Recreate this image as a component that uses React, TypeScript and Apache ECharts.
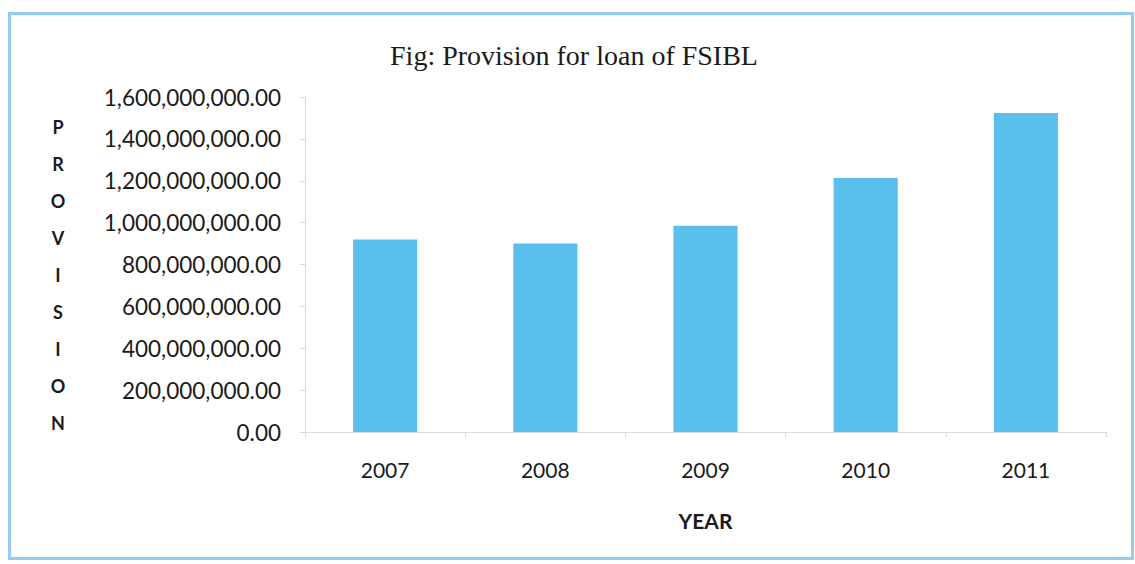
import React, { useEffect, useRef } from "react";
import * as echarts from "echarts";

const titleText = "Fig: Provision for loan of FSIBL";
const years = ["2007", "2008", "2009", "2010", "2011"];
const provisions = [920000000, 900000000, 985000000, 1213000000, 1524000000];
const yMin = 0;
const yMax = 1600000000;
const yStep = 200000000;
const yAxisTitle = "PROVISION";
const xAxisTitle = "YEAR";

function fmt(v: number): string {
  return v.toLocaleString("en-US", { minimumFractionDigits: 2, maximumFractionDigits: 2 });
}

export default function App() {
  const ref = useRef<HTMLDivElement>(null);
  useEffect(() => {
    if (!ref.current) return;
    const chart = echarts.init(ref.current, undefined, { renderer: "svg" });
    const sans = "Lato, 'Open Sans', sans-serif";
    chart.setOption({
      animation: false,
      backgroundColor: "#ffffff",
      title: {
        text: titleText,
        left: 569,
        top: 50,
        textAlign: "center",
        textVerticalAlign: "middle",
        textStyle: {
          fontFamily: "'Liberation Serif', 'DejaVu Serif', serif",
          fontSize: 28,
          fontWeight: "normal",
          color: "#1a1a1a",
        },
      },
      grid: { left: 305, right: 29, top: 97, bottom: 132, containLabel: false },
      xAxis: {
        type: "category",
        data: years,
        name: xAxisTitle,
        nameLocation: "middle",
        nameGap: 78,
        nameTextStyle: { fontFamily: sans, fontSize: 21, fontWeight: "bold", color: "#1a1a1a" },
        axisLine: { show: true, lineStyle: { color: "#d9d9d9", width: 1 } },
        axisTick: { show: true, alignWithLabel: false, length: 5, lineStyle: { color: "#d9d9d9" } },
        axisLabel: { margin: 27, fontFamily: sans, fontSize: 21, color: "#1a1a1a" },
        splitLine: { show: false },
      },
      yAxis: {
        type: "value",
        min: yMin,
        max: yMax,
        interval: yStep,
        axisLine: { show: true, lineStyle: { color: "#d9d9d9", width: 1 } },
        axisTick: { show: true, length: 5, lineStyle: { color: "#d9d9d9" } },
        axisLabel: {
          margin: 24,
          fontFamily: sans,
          fontSize: 22.5,
          color: "#1a1a1a",
          formatter: (v: number) => fmt(v),
        },
        splitLine: { show: false },
      },
      series: [
        {
          type: "bar",
          data: provisions,
          barCategoryGap: "60%",
          itemStyle: { color: "#5bbfee" },
        },
      ],
      graphic: [
        {
          type: "rect",
          shape: { x: 9.5, y: 13.5, width: 1123, height: 545 },
          style: { fill: "none", stroke: "#93ccee", lineWidth: 3 },
          z: 10,
        },
        {
          type: "text",
          x: 58,
          y: 275,
          style: {
            text: yAxisTitle.split("").join("\n"),
            fontFamily: sans,
            fontSize: 18,
            fontWeight: "bold",
            lineHeight: 37,
            fill: "#1a1a1a",
            align: "center",
            verticalAlign: "middle",
          },
        },
      ],
    });
    return () => chart.dispose();
  }, []);
  return (
    <div
      ref={ref}
      style={{ position: "fixed", left: 0, top: 0, width: 1135, height: 564, background: "#fff" }}
    />
  );
}
